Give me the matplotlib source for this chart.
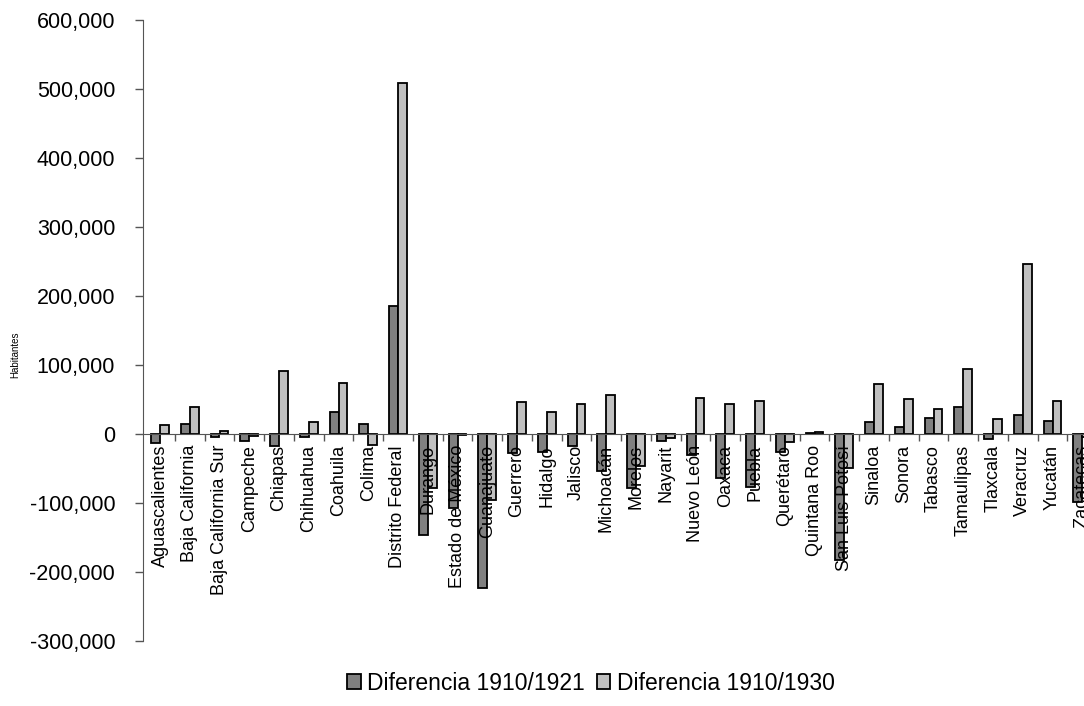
import numpy as np
import matplotlib
matplotlib.use("Agg")
import matplotlib.pyplot as plt
from matplotlib.ticker import FuncFormatter, FixedLocator

plt.rcParams['font.family'] = ['Liberation Sans', 'DejaVu Sans']

estados = ["Aguascalientes", "Baja California", "Baja California Sur", "Campeche",
           "Chiapas", "Chihuahua", "Coahuila", "Colima", "Distrito Federal",
           "Durango", "Estado de México", "Guanajuato", "Guerrero", "Hidalgo",
           "Jalisco", "Michoacán", "Morelos", "Nayarit", "Nuevo León", "Oaxaca",
           "Puebla", "Querétaro", "Quintana Roo", "San Luis Potosí", "Sinaloa",
           "Sonora", "Tabasco", "Tamaulipas", "Tlaxcala", "Veracruz", "Yucatán",
           "Zacatecas"]

dif_1921 = [-13500, 14500, -4900, -10700, -18000, -4900, 31500, 14500, 185000,
            -147000, -107000, -223000, -28000, -26700, -18000, -53400, -77700,
            -9700, -30000, -64000, -76700, -26700, 1500, -182000, 18000, 10700,
            23300, 38800, -7300, 27700, 19400, -98500]

dif_1930 = [13000, 38800, 4900, -3400, 90800, 18000, 73800, -15500, 508000,
            -78600, -1000, -95600, 47000, 31600, 43700, 56800, -47000, -5800,
            52400, 43700, 48500, -11200, 2500, -49500, 72800, 51000, 36000, 94700,
            21800, 246000, 47600, -5000]

W, H = 1084, 706
fig = plt.figure(figsize=(W / 100, H / 100), dpi=100)
# axes runs a little past the right edge, as in the original
ax = fig.add_axes([143 / W, 1 - 641 / H, 957 / W, (641 - 20) / H])
ax.set_axisbelow(False)  # state names are drawn over the bars

x = np.arange(len(estados))
bw = 0.3
ax.bar(x - bw / 2, dif_1921, bw, color="#808080", edgecolor="black", linewidth=1.3,
       label="Diferencia 1910/1921", zorder=2)
ax.bar(x + bw / 2, dif_1930, bw, color="#c0c0c0", edgecolor="black", linewidth=1.3,
       label="Diferencia 1910/1930", zorder=2)

step = 29.75
ax.set_xlim((143 - 160) / step, (1100 - 160) / step)
ax.set_ylim(-300000, 600000)
ax.set_yticks(np.arange(-300000, 600001, 100000))
ax.yaxis.set_major_formatter(FuncFormatter(lambda v, p: f"{int(v):,}"))
ax.tick_params(axis='y', labelsize=15.5, length=6, width=1, color="#555555", pad=14)

for s in ["top", "right"]:
    ax.spines[s].set_visible(False)
ax.spines["left"].set_color("#555555")
ax.spines["bottom"].set_position(("data", 0))
ax.spines["bottom"].set_color("#555555")

ax.set_xticks(x)
ax.set_xticklabels(estados, rotation=90, fontsize=13, va="top")
ax.tick_params(axis='x', which='major', length=0, pad=8)
ax.xaxis.set_minor_locator(FixedLocator(np.arange(0.5, len(estados), 1)))
ax.tick_params(axis='x', which='minor', length=5, width=1, color="#555555", direction="out")

fig.text(15 / W, 1 - 355 / H, "Habitantes", rotation=90, fontsize=7,
         ha="center", va="center")

fig.legend(loc="center", bbox_to_anchor=(591 / W, 1 - 683 / H), ncol=2,
           frameon=False, fontsize=16.5, handlelength=0.6, handleheight=0.6,
           handletextpad=0.3, columnspacing=0.5, borderpad=0)

fig.savefig("out.png", dpi=100)
